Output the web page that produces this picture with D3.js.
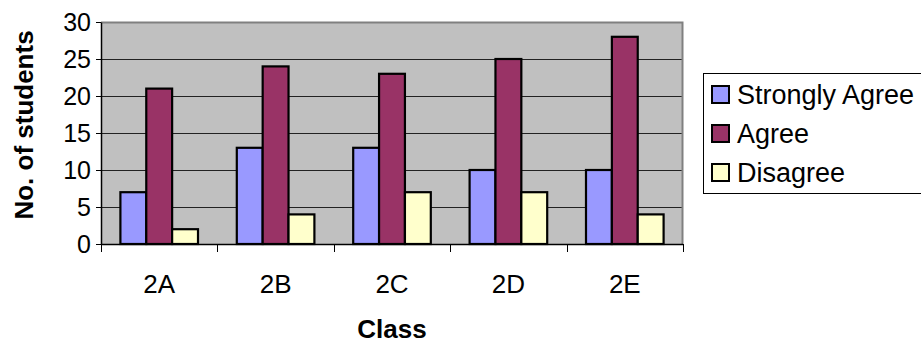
<!DOCTYPE html>
<html>
<head>
<meta charset="utf-8">
<script src="https://cdn.jsdelivr.net/npm/d3@7"></script>
<style>
  html, body { margin: 0; padding: 0; background: #fff; }
  svg { display: block; font-family: "Liberation Sans", Arial, sans-serif; }
</style>
</head>
<body>
<svg id="chart" width="921" height="343"></svg>
<script>
// Survey responses per class
const classes = ["2A", "2B", "2C", "2D", "2E"];
const seriesNames = ["Strongly Agree", "Agree", "Disagree"];
const stronglyAgree = [7, 13, 13, 10, 10];
const agree = [21, 24, 23, 25, 28];
const disagree = [2, 4, 7, 7, 4];
const yTicks = [0, 5, 10, 15, 20, 25, 30];
const colors = ["#9999FF", "#993366", "#FFFFCC"];

const seriesValues = [stronglyAgree, agree, disagree];

const svg = d3.select("#chart");
const plot = { left: 101, top: 22, right: 683, bottom: 244 };

const x = d3.scaleBand().domain(classes).range([plot.left, plot.right]).padding(0);
// three bars fill 3/4.5 of each category, gaps of 0.75 bar on each side
const barW = x.bandwidth() / 4.5;
const xInner = d3.scaleBand().domain(seriesNames).range([0.75 * barW, 3.75 * barW]).padding(0);
const y = d3.scaleLinear().domain([0, 30]).range([plot.bottom, plot.top]);

// plot background
svg.append("rect")
  .attr("x", plot.left).attr("y", plot.top)
  .attr("width", plot.right - plot.left).attr("height", plot.bottom - plot.top)
  .attr("fill", "#C0C0C0");

// gridlines
svg.append("g").selectAll("line")
  .data(yTicks.filter(d => d > 0 && d < 30))
  .join("line")
  .attr("x1", plot.left).attr("x2", plot.right)
  .attr("y1", d => Math.round(y(d)) + 0.5).attr("y2", d => Math.round(y(d)) + 0.5)
  .attr("stroke", "#222").attr("stroke-width", 1);

// top and right plot border
svg.append("path")
  .attr("d", `M${plot.left},${plot.top + 0.5}H${plot.right - 0.5}V${plot.bottom}`)
  .attr("fill", "none").attr("stroke", "#808080").attr("stroke-width", 2);

// bars
const groups = svg.append("g").selectAll("g")
  .data(seriesNames)
  .join("g")
  .attr("fill", (d, i) => colors[i]);

groups.selectAll("rect")
  .data((name, si) => classes.map((c, ci) => ({ c, name, v: seriesValues[si][ci] })))
  .join("rect")
  .attr("x", d => x(d.c) + xInner(d.name))
  .attr("y", d => y(d.v))
  .attr("width", xInner.bandwidth())
  .attr("height", d => y(0) - y(d.v))
  .attr("stroke", "#000")
  .attr("stroke-width", 2.2);

// y axis
const yAxis = svg.append("g")
  .attr("transform", `translate(${plot.left},0)`)
  .call(d3.axisLeft(y).tickValues(yTicks).tickSize(5).tickPadding(5).tickSizeOuter(0));
yAxis.select(".domain").attr("stroke", "#000").attr("stroke-width", 1.5);
yAxis.selectAll(".tick line").attr("stroke", "#000");
yAxis.selectAll(".tick text")
  .attr("font-size", 25).attr("fill", "#000")
  .attr("font-family", "'Liberation Sans', Arial, sans-serif");

// x axis with ticks on category boundaries
svg.append("line")
  .attr("x1", plot.left).attr("x2", plot.right)
  .attr("y1", plot.bottom + 0.5).attr("y2", plot.bottom + 0.5)
  .attr("stroke", "#000").attr("stroke-width", 1.5);
const boundaries = classes.map(c => x(c)).concat([x(classes[classes.length - 1]) + x.bandwidth()]);
svg.append("g").selectAll("line")
  .data(boundaries)
  .join("line")
  .attr("x1", d => Math.round(d) + 0.5).attr("x2", d => Math.round(d) + 0.5)
  .attr("y1", plot.bottom).attr("y2", plot.bottom + 8)
  .attr("stroke", "#000");

svg.append("g").selectAll("text")
  .data(classes)
  .join("text")
  .attr("x", d => x(d) + x.bandwidth() / 2)
  .attr("y", 293)
  .attr("text-anchor", "middle")
  .attr("font-size", 26)
  .text(d => d);

// axis titles
svg.append("text")
  .attr("x", (plot.left + plot.right) / 2)
  .attr("y", 338)
  .attr("text-anchor", "middle")
  .attr("font-size", 26).attr("font-weight", "bold")
  .text("Class");

svg.append("text")
  .attr("transform", "translate(33,125) rotate(-90)")
  .attr("text-anchor", "middle")
  .attr("font-size", 26).attr("font-weight", "bold")
  .text("No. of students");

// legend
const legend = svg.append("g");
legend.append("rect")
  .attr("x", 703.5).attr("y", 73.5)
  .attr("width", 230).attr("height", 120)
  .attr("fill", "#fff").attr("stroke", "#000").attr("stroke-width", 1);

const items = legend.selectAll("g.item")
  .data(seriesNames)
  .join("g")
  .attr("class", "item")
  .attr("transform", (d, i) => `translate(712,${86 + i * 39})`);
items.append("rect")
  .attr("width", 17).attr("height", 17)
  .attr("fill", (d, i) => colors[i])
  .attr("stroke", "#000").attr("stroke-width", 2);
items.append("text")
  .attr("x", 25).attr("y", 18)
  .attr("font-size", 27)
  .text(d => d);
</script>
</body>
</html>
